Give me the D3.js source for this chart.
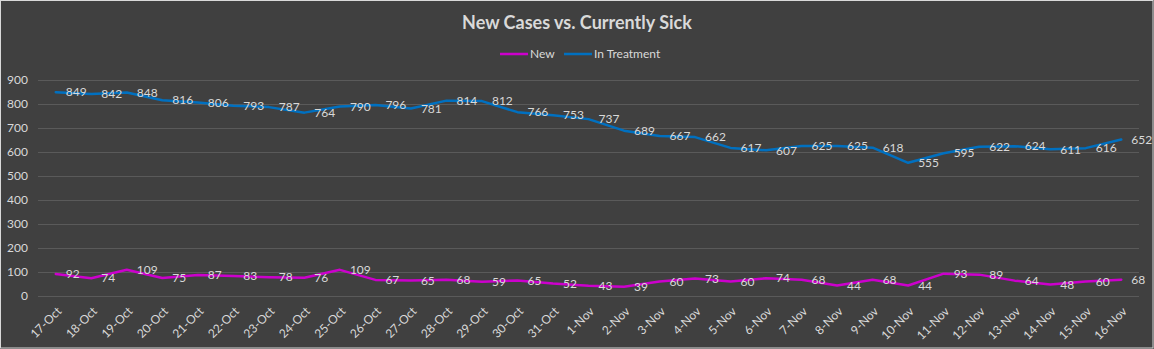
<!DOCTYPE html>
<html>
  <head>
    <title>New Cases vs. Currently Sick</title>
    <script src="https://cdn.jsdelivr.net/npm/d3@7/dist/d3.min.js"></script>
    <style>
      body { margin: 0; background: #404040; }
      svg { display: block; font-family: Lato, "Open Sans", sans-serif; }
    </style>
  </head>
  <body>
    <script>
      var dates = ['17-Oct','18-Oct','19-Oct','20-Oct','21-Oct','22-Oct','23-Oct','24-Oct','25-Oct','26-Oct',
        '27-Oct','28-Oct','29-Oct','30-Oct','31-Oct','1-Nov','2-Nov','3-Nov','4-Nov','5-Nov','6-Nov','7-Nov',
        '8-Nov','9-Nov','10-Nov','11-Nov','12-Nov','13-Nov','14-Nov','15-Nov','16-Nov'];
      var newCases = [92,74,109,75,87,83,78,76,109,67,65,68,59,65,52,43,39,60,73,60,74,68,44,68,44,93,89,64,48,60,68];
      var inTreatment = [849,842,848,816,806,793,787,764,790,796,781,814,812,766,753,737,689,667,662,617,607,625,625,618,555,595,622,624,611,616,652];
      var yTicks = [0,100,200,300,400,500,600,700,800,900];

      var series = [
        { name: 'New', values: newCases, color: '#cc00cc' },
        { name: 'In Treatment', values: inTreatment, color: '#0070c0' }
      ];

      var W = 1154, H = 349;
      var svg = d3.select('body').append('svg').attr('width', W).attr('height', H);

      svg.append('rect').attr('x', 0.5).attr('y', 0.5).attr('width', W - 1.5).attr('height', H - 1.5)
        .attr('fill', '#404040').attr('stroke', '#d9d9d9').attr('stroke-width', 1);

      var x = d3.scalePoint().domain(dates).range([38, 1139]).padding(0.5);
      var y = d3.scaleLinear().domain([0, 900]).range([296, 80]);

      // gridlines + y labels
      var yAxis = svg.append('g').attr('transform', 'translate(38,0)')
        .call(d3.axisLeft(y).tickValues(yTicks).tickSize(-1101).tickPadding(10));
      yAxis.select('.domain').remove();
      yAxis.selectAll('line').attr('stroke', '#5a5a5a');
      yAxis.selectAll('text').attr('fill', '#d9d9d9').attr('font-size', '12px').attr('font-family', 'Lato, sans-serif');

      // x labels
      var xAxis = svg.append('g').attr('transform', 'translate(0,296)')
        .call(d3.axisBottom(x).tickSize(0).tickPadding(0));
      xAxis.select('.domain').remove();
      xAxis.selectAll('text')
        .attr('fill', '#d9d9d9').attr('font-size', '12px').attr('font-family', 'Lato, sans-serif')
        .attr('text-anchor', 'end').attr('dy', 0)
        .attr('transform', 'translate(6,16) rotate(-45)');

      var line = d3.line().x(function(d, i){ return x(dates[i]); }).y(function(d){ return y(d); });

      series.forEach(function(s){
        svg.append('path').datum(s.values).attr('d', line)
          .attr('fill', 'none').attr('stroke', s.color).attr('stroke-width', 2.5)
          .attr('stroke-linejoin', 'round').attr('stroke-linecap', 'round');
      });

      series.forEach(function(s){
        svg.append('g').selectAll('text').data(s.values).enter().append('text')
          .attr('x', function(d, i){ return x(dates[i]) + 10; })
          .attr('y', function(d){ return y(d); })
          .attr('dy', '0.35em')
          .attr('fill', '#d9d9d9').attr('font-size', '12px')
          .text(function(d){ return d; });
      });

      // title
      svg.append('text').attr('x', 577).attr('y', 29).attr('text-anchor', 'middle')
        .attr('fill', '#d9d9d9').attr('font-size', '18px').attr('font-weight', 'bold')
        .text('New Cases vs. Currently Sick');

      // legend
      var legend = svg.append('g');
      var lx = [500, 564];
      series.forEach(function(s, i){
        legend.append('line').attr('x1', lx[i]).attr('x2', lx[i] + 28).attr('y1', 54).attr('y2', 54)
          .attr('stroke', s.color).attr('stroke-width', 2.5);
        legend.append('text').attr('x', lx[i] + 30).attr('y', 54).attr('dy', '0.35em')
          .attr('fill', '#d9d9d9').attr('font-size', '12px').text(s.name);
      });
    </script>
  </body>
</html>
